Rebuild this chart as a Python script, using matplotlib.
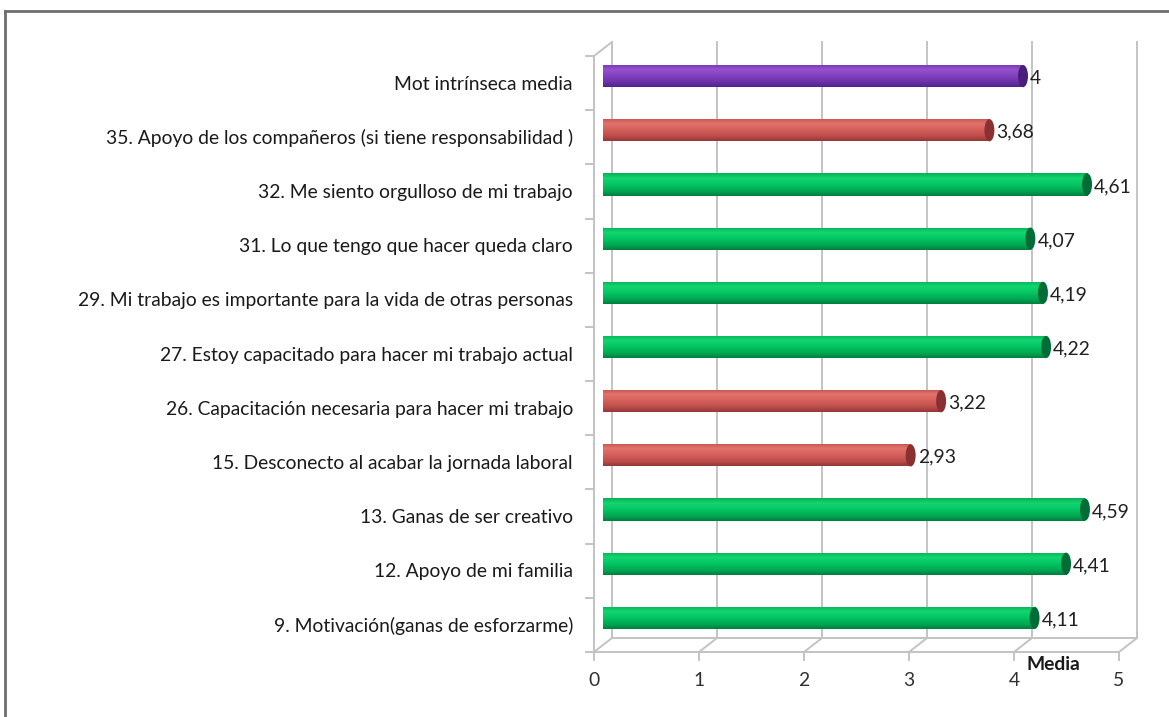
import numpy as np
import matplotlib
matplotlib.use('Agg')
import matplotlib.pyplot as plt
import matplotlib.transforms as mtransforms
from matplotlib.patches import Ellipse
from matplotlib.colors import LinearSegmentedColormap

plt.rcParams['font.family'] = ['Lato', 'DejaVu Sans']

# data (top to bottom as shown)
labels = ['Mot intrínseca media',
          '35. Apoyo de los compañeros (si tiene responsabilidad )',
          '32. Me siento orgulloso de mi trabajo',
          '31. Lo que tengo que hacer queda claro',
          '29. Mi trabajo es importante para la vida de otras personas',
          '27. Estoy capacitado para hacer mi trabajo actual',
          '26. Capacitación necesaria para hacer mi trabajo',
          '15. Desconecto al acabar la jornada laboral',
          '13. Ganas de ser creativo',
          '12. Apoyo de mi familia',
          '9. Motivación(ganas de esforzarme)']
values = [4.00, 3.68, 4.61, 4.07, 4.19, 4.22, 3.22, 2.93, 4.59, 4.41, 4.11]
xticks = [0, 1, 2, 3, 4, 5]
axis_title = 'Media'

W, H = 1169, 717
FS = 13.9
fig = plt.figure(figsize=(W / 100, H / 100), dpi=100)
# axes = mid-depth plane of the 3d plot
ax = fig.add_axes([603 / W, (H - 645) / H, 525 / W, 596 / H])
ax.set_xlim(0, 5)
ax.set_ylim(10.5, -0.5)
ax.axis('off')

def shifted(dx, dy):
    return ax.transData + mtransforms.ScaledTranslation(dx / 100, -dy / 100, fig.dpi_scale_trans)

front = shifted(-9, 7)
back = shifted(9, -7)
gcol = '#c3c3c3'
lw = 1.4

# back wall gridlines
for t in xticks:
    ax.plot([t, t], [-0.5, 10.5], color=gcol, lw=lw, transform=back, clip_on=False, zorder=1)
# left wall
ax.plot([0, 0], [-0.5, 10.5], color=gcol, lw=lw, transform=front, clip_on=False, zorder=1)
p1 = front.transform((0, -0.5))
p2 = back.transform((0, -0.5))
fig.add_artist(plt.Line2D([p1[0], p2[0]], [p1[1], p2[1]], color=gcol, lw=lw, transform=None))
# floor
ax.plot([0, 5], [10.5, 10.5], color=gcol, lw=lw, transform=front, clip_on=False, zorder=1)
ax.plot([0, 5], [10.5, 10.5], color=gcol, lw=lw, transform=back, clip_on=False, zorder=1)
for t in xticks:
    a = front.transform((t, 10.5))
    b = back.transform((t, 10.5))
    fig.add_artist(plt.Line2D([a[0], b[0]], [a[1], b[1]], color=gcol, lw=lw, transform=None))
    fig.add_artist(plt.Line2D([a[0], a[0]], [a[1], a[1] - 8], color=gcol, lw=lw, transform=None))
    fig.text(a[0] / W, (a[1] - 29) / H, str(t), ha='center', va='center',
             fontsize=FS, color='#303030')
# left wall ticks
for k in range(len(labels) + 1):
    a = front.transform((0, k - 0.5))
    fig.add_artist(plt.Line2D([a[0] - 8, a[0]], [a[1], a[1]], color=gcol, lw=lw, transform=None))

# bar colours
styles = {
    'mean': ['#7436b4', '#9452cc', '#8242c0', '#6a30a6', '#50228a'],
    'high': ['#07b058', '#12d670', '#04c563', '#01a652', '#007e3e'],
    'low': ['#c4524e', '#e2736c', '#d6615c', '#bb4c48', '#933738'],
}
caps = {'mean': '#4a1e7c', 'high': '#006c36', 'low': '#8a3030'}

h = 0.41
capw = 0.095
ypos = np.arange(len(labels))
for i, (y, v) in enumerate(zip(ypos, values)):
    kind = 'mean' if i == 0 else ('high' if v >= values[0] else 'low')
    cmap = LinearSegmentedColormap.from_list('c', list(zip([0, 0.22, 0.5, 0.8, 1.0], styles[kind])))
    grad = np.linspace(0, 1, 64).reshape(-1, 1)
    bar = ax.barh(y, v, height=h, color='none', edgecolor='none', zorder=3)[0]
    left = Ellipse((0, y), capw, h, facecolor='none', edgecolor='none', zorder=3)
    ax.add_patch(left)
    for patch in (bar, left):
        im = ax.imshow(grad, cmap=cmap, aspect='auto', extent=(-capw, v, y + h / 2, y - h / 2),
                       zorder=3, interpolation='bilinear')
        im.set_clip_path(patch)
    ax.add_patch(Ellipse((v, y), capw, h, facecolor=caps[kind], edgecolor='none', zorder=4))
    txt = f'{v:.2f}'.rstrip('0').rstrip('.').replace('.', ',')
    ax.annotate(txt, (v, y), xytext=(7, -2), textcoords='offset pixels', ha='left', va='center',
                fontsize=FS, color='#202020', zorder=5, annotation_clip=False)
    ax.annotate(labels[i], (0, y), xytext=(-30, -8), textcoords='offset pixels', ha='right',
                va='center', fontsize=FS, color='#1a1a1a', annotation_clip=False)

ax.set_xlim(0, 5)
ax.set_ylim(10.5, -0.5)

fig.text(1053 / W, 1 - 664 / H, axis_title, ha='center', va='center', fontsize=FS,
         fontweight='bold', color='#1a1a1a')

# chart border (top and left visible)
fig.add_artist(plt.Line2D([5 / W, 5 / W], [0, 1 - 11 / H], color='#6e6e6e', lw=2, transform=fig.transFigure))
fig.add_artist(plt.Line2D([5 / W, 1], [1 - 11 / H, 1 - 11 / H], color='#6e6e6e', lw=2, transform=fig.transFigure))

fig.savefig('out.png', dpi=100)
